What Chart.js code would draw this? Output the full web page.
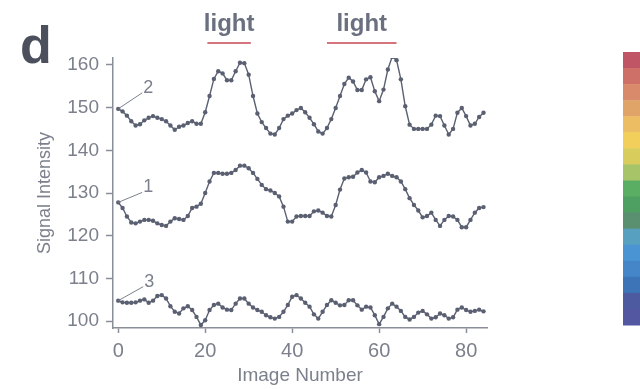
<!DOCTYPE html>
<html>
<head>
<meta charset="utf-8">
<script src="https://cdn.jsdelivr.net/npm/chart.js@4/dist/chart.umd.min.js"></script>
<style>
  body { margin: 0; background: #fff; }
  canvas { display: block; }
</style>
</head>
<body>
<canvas id="myChart" width="640" height="389"></canvas>
<script>
// image numbers along the time course
const imageNumbers = Array.from({ length: 85 }, (_, i) => i);

// signal intensity of the three traces
const trace1 = [
  127.8, 126.5, 124.5, 123.1, 122.9, 123.3, 123.7, 123.7, 123.5, 122.9,
  122.5, 122.3, 123.3, 124.1, 123.9, 123.7, 124.6, 126.5, 126.8, 127.5,
  130.0, 132.7, 134.7, 134.7, 134.5, 134.5, 134.7, 135.4, 136.4, 136.4,
  135.8, 134.7, 133.3, 131.9, 130.9, 130.6, 130.0, 129.2, 126.8, 123.3,
  123.3, 124.5, 124.6, 124.6, 124.6, 125.7, 125.9, 125.4, 124.6, 124.5,
  127.2, 130.8, 133.4, 133.7, 133.8, 134.8, 135.4, 134.8, 132.7, 132.5,
  133.7, 134.0, 134.5, 134.0, 133.7, 132.7, 130.9, 128.8, 127.2, 125.9,
  124.3, 124.6, 125.4, 123.7, 122.3, 123.7, 124.6, 124.5, 123.7, 122.0,
  122.0, 123.7, 125.4, 126.5, 126.7
];
const trace2 = [
  149.7, 149.1, 148.1, 146.8, 145.8, 146.1, 147.0, 147.6, 148.0, 147.6,
  147.3, 146.8, 145.8, 144.8, 145.5, 145.8, 146.4, 146.8, 146.2, 146.2,
  148.9, 152.7, 156.7, 158.5, 158.0, 156.4, 156.4, 158.5, 160.5, 160.4,
  157.7, 152.7, 148.6, 146.6, 145.2, 143.9, 143.7, 145.2, 147.3, 148.1,
  148.6, 149.4, 149.9, 148.9, 147.6, 146.1, 144.4, 143.9, 145.2, 147.3,
  149.9, 152.7, 155.5, 157.0, 156.1, 154.1, 154.1, 156.6, 157.1, 153.8,
  151.5, 154.2, 158.9, 161.9, 161.1, 156.6, 150.3, 146.0, 145.0, 145.0,
  145.0, 145.0, 146.0, 148.1, 148.0, 145.8, 143.7, 145.0, 148.8, 149.9,
  148.0, 145.8, 146.2, 147.8, 148.8
];
const trace3 = [
  104.8, 104.4, 104.3, 104.3, 104.4, 104.8, 105.1, 104.3, 104.8, 105.9,
  106.1, 105.3, 103.5, 102.2, 101.8, 103.0, 103.5, 102.6, 101.0, 99.1,
  100.2, 102.6, 103.8, 104.1, 103.2, 102.7, 102.6, 104.1, 105.3, 105.3,
  104.1, 103.2, 102.6, 102.2, 101.4, 100.9, 100.6, 101.0, 102.2, 103.8,
  105.7, 106.1, 105.3, 104.3, 103.4, 101.6, 100.6, 102.2, 103.8, 104.9,
  104.3, 103.7, 103.8, 104.9, 104.9, 103.7, 102.7, 103.4, 103.2, 101.4,
  99.3, 101.0, 103.0, 104.1, 103.4, 102.4, 101.0, 100.4, 101.0, 102.0,
  102.4, 101.6, 100.6, 100.9, 101.8, 101.4, 100.6, 100.9, 102.7, 103.2,
  102.6, 102.2, 102.4, 102.7, 102.3
];
const traceNames = ["2", "1", "3"];

// light on periods (image numbers)
const lightStart = [20.5, 48];
const lightEnd = [30.5, 64];

const xTicks = [0, 20, 40, 60, 80];
const yTicks = [100, 110, 120, 130, 140, 150, 160];

const colourBar = [
  "#c05565", "#cf7068", "#d98a6a", "#e0a468", "#ecbd62", "#f2cf5a",
  "#d8cc5c", "#a8c468", "#5aae64", "#4e9f62", "#5a9070", "#58a0c0",
  "#4a94d4", "#4586c8", "#3d74b8", "#4d5aa0", "#5356a0"
];

const lineColor = "#5a6071";
const axisColor = "#8a8e99";
const textColor = "#7b808c";
const FONT = "'Liberation Sans', Arial, sans-serif";

function toPoints(values) {
  return values.map((v, i) => ({ x: imageNumbers[i], y: v }));
}

// pointer from the first point of each trace to its number
const pointerOffsets = [[24, -16], [24, -10], [25, -14]];

const extras = {
  id: "extras",
  afterDraw(chart) {
    const ctx = chart.ctx;
    const xs = chart.scales.x;
    const ys = chart.scales.y;
    ctx.save();

    ctx.fillStyle = "#4b505c";
    ctx.font = "bold 52px " + FONT;
    ctx.textAlign = "left";
    ctx.textBaseline = "alphabetic";
    ctx.fillText("d", 20, 63);

    for (let k = 0; k < lightStart.length; k++) {
      const x0 = xs.getPixelForValue(lightStart[k]);
      const x1 = xs.getPixelForValue(lightEnd[k]);
      ctx.strokeStyle = "#d6747e";
      ctx.lineWidth = 2;
      ctx.beginPath();
      ctx.moveTo(x0, 43);
      ctx.lineTo(x1, 43);
      ctx.stroke();
      ctx.fillStyle = "#6b7080";
      ctx.font = "bold 24px " + FONT;
      ctx.textAlign = "center";
      ctx.fillText("light", (x0 + x1) / 2, 31);
    }

    chart.data.datasets.forEach((ds, k) => {
      const px = xs.getPixelForValue(ds.data[0].x);
      const py = ys.getPixelForValue(ds.data[0].y);
      const [dx, dy] = pointerOffsets[k];
      ctx.strokeStyle = textColor;
      ctx.lineWidth = 1;
      ctx.beginPath();
      ctx.moveTo(px, py);
      ctx.lineTo(px + dx, py + dy);
      ctx.stroke();
      ctx.fillStyle = textColor;
      ctx.font = "18px " + FONT;
      ctx.textAlign = "center";
      ctx.textBaseline = "middle";
      ctx.fillText(traceNames[k], px + dx + 6, py + dy - 5);
    });

    // colour scale strip
    const top = 52, bottom = 325, h = (bottom - top) / colourBar.length;
    colourBar.forEach((c, k) => {
      ctx.fillStyle = c;
      ctx.fillRect(623, top + k * h, 17, h + 0.5);
    });
    ctx.restore();
  }
};

new Chart("myChart", {
  type: "line",
  data: {
    datasets: [trace2, trace1, trace3].map(values => ({
      data: toPoints(values),
      borderColor: lineColor,
      backgroundColor: lineColor,
      borderWidth: 1.4,
      pointRadius: 2.2,
      pointBorderWidth: 0,
      tension: 0
    }))
  },
  options: {
    responsive: false,
    animation: false,
    layout: { padding: { top: 58, right: 153, left: 0, bottom: 0 } },
    plugins: { legend: { display: false }, tooltip: { enabled: false } },
    scales: {
      x: {
        type: "linear",
        min: -1.2,
        max: 84.8,
        afterBuildTicks: s => { s.ticks = xTicks.map(v => ({ value: v })); },
        afterFit: s => { s.height = 61; },
        border: { color: axisColor, width: 1.5 },
        grid: { drawOnChartArea: false, tickLength: 5, tickColor: axisColor, tickWidth: 1.5 },
        ticks: { color: textColor, font: { family: FONT, size: 20 }, padding: 6, maxRotation: 0 },
        title: {
          display: true, text: "Image Number", color: textColor,
          font: { family: FONT, size: 19 }, padding: { top: 0, bottom: 2 }
        }
      },
      y: {
        min: 98.4,
        max: 161.6,
        afterBuildTicks: s => { s.ticks = yTicks.map(v => ({ value: v })); },
        afterFit: s => { s.width = 113; },
        border: { color: axisColor, width: 1.5 },
        grid: { drawOnChartArea: false, tickLength: 7, tickColor: axisColor, tickWidth: 1.5 },
        ticks: { color: textColor, font: { family: FONT, size: 19 }, padding: 7 },
        title: {
          display: true, text: "Signal Intensity", color: textColor,
          font: { family: FONT, size: 18 }, padding: { top: 34, bottom: 0 }
        }
      }
    }
  },
  plugins: [extras]
});
</script>
</body>
</html>
